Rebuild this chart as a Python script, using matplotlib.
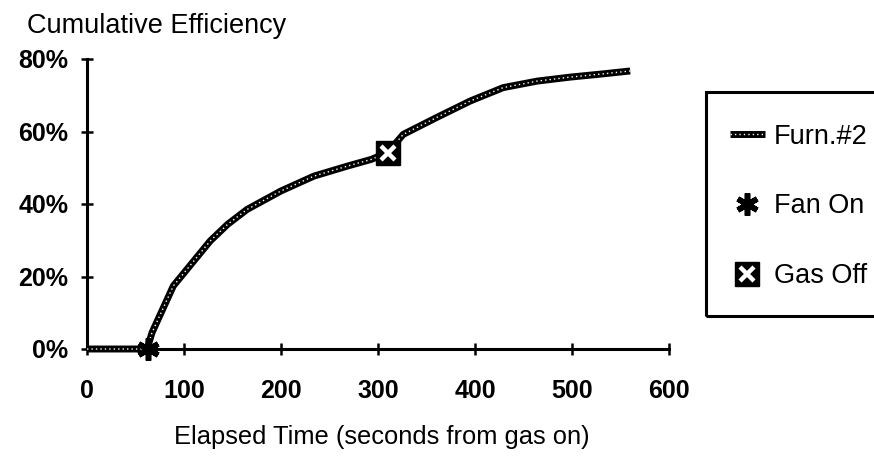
import matplotlib
matplotlib.use("Agg")
import matplotlib.pyplot as plt
from matplotlib.patches import Rectangle

plt.rcParams['font.family'] = ['Liberation Sans', 'DejaVu Sans']

# Data
time_s = [0, 62, 67, 89, 127, 145, 165, 200, 234, 269, 293, 310, 326, 360, 395, 429, 464, 498, 532, 560]
efficiency = [0, 0, 4.5, 17.4, 29.8, 34.4, 38.5, 43.6, 47.7, 50.5, 52.3, 54.2, 59.2, 63.8, 68.4, 72.1, 73.9, 75.0, 75.9, 76.7]
fan_on = (63, 0)
gas_off = (310, 54.2)
x_ticks = [0, 100, 200, 300, 400, 500, 600]
y_ticks = [0, 20, 40, 60, 80]
series_label = "Furn.#2"
fan_label = "Fan On"
gas_label = "Gas Off"

fig = plt.figure(figsize=(8.74, 4.58), dpi=100)
ax = fig.add_axes([87/874, 1-349/458, (669-87)/874, (349-59)/458])

# curve: thick dark band with light speckles
l1, = ax.plot(time_s, efficiency, color='black', lw=5.0, solid_capstyle='butt', clip_on=False, zorder=3)
l2, = ax.plot(time_s, efficiency, color='white', lw=1.0, ls=(0, (1, 2.2)), clip_on=False, zorder=4)

fan, = ax.plot([fan_on[0]], [fan_on[1]], ls='none', marker=(6, 2, 0), ms=16, mew=4,
               color='black', clip_on=False, zorder=6)
sq, = ax.plot([gas_off[0]], [gas_off[1]], ls='none', marker='s', ms=17, mfc='black', mec='black',
              clip_on=False, zorder=6)
xx, = ax.plot([gas_off[0]], [gas_off[1]], ls='none', marker='x', ms=10, mew=3.2, color='white',
              clip_on=False, zorder=7)

ax.set_xlim(0, 600)
ax.set_ylim(0, 80)
ax.set_xticks(x_ticks)
ax.set_xticklabels([str(v) for v in x_ticks])
ax.set_yticks(y_ticks)
ax.set_yticklabels([f"{v}%" for v in y_ticks])

for s in ['top', 'right']:
    ax.spines[s].set_visible(False)
for s in ['left', 'bottom']:
    ax.spines[s].set_linewidth(2.2)
    ax.spines[s].set_color('black')

ax.tick_params(axis='both', direction='inout', length=9, width=1.8, colors='black')
ax.tick_params(axis='x', pad=17)
ax.tick_params(axis='y', pad=9)
for lab in ax.get_xticklabels() + ax.get_yticklabels():
    lab.set_fontsize(18)
    lab.set_fontweight('bold')

ax.set_facecolor('none')

fig.text(27/874, 1-26/458, "Cumulative Efficiency", fontsize=19.5, ha='left', va='center')
fig.text(382/874, 1-437/458, "Elapsed Time (seconds from gas on)", fontsize=18.4, ha='center', va='center')

# legend box
fig.patches.append(Rectangle((706/874, 1-316/458), 0.3, (316-92)/458, transform=fig.transFigure,
                             fill=False, lw=2.2, edgecolor='black'))
leg = fig.legend([(l1, l2), fan, (sq, xx)], [series_label, fan_label, gas_label],
                 loc='upper left', bbox_to_anchor=(716/874, 1-110/458), frameon=False,
                 fontsize=19.5, handlelength=1.3, handletextpad=0.35, labelspacing=1.62,
                 borderpad=0)

fig.savefig("out.png", dpi=100)
